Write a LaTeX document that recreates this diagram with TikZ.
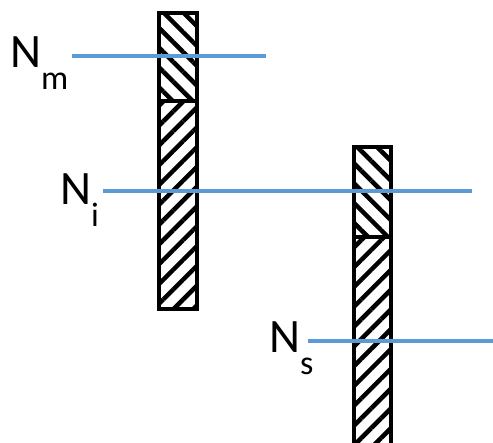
\documentclass[tikz,border=0pt]{standalone}
\usepackage{fontspec}
\setmainfont{Carlito}
\usetikzlibrary{patterns.meta}
\definecolor{lvlblue}{RGB}{91,155,213}
\newcommand{\subidx}[1]{\raisebox{-22pt}{\fontsize{34}{34}\selectfont #1}}
\tikzset{
  bar/.style={draw, line width=4pt},
  hatchdown/.style={pattern={Lines[angle=-45, distance=14pt, line width=4.5pt]}},
  hatchup/.style={pattern={Lines[angle=45, distance=14pt, line width=4.5pt]}},
  level/.style={draw=lvlblue, line width=4pt},
  lbl/.style={anchor=base west, inner sep=0pt, font=\fontsize{48}{48}\selectfont},
}

\begin{document}
\begin{tikzpicture}[x=1pt, y=-1pt]
    \useasboundingbox (0,0) rectangle (493,443);
    \clip (0,0) rectangle (493,443);
    % left bar
    \fill[hatchdown] (159,13) rectangle (197,101);
    \fill[hatchup] (159,101) rectangle (197,309);
    \draw[bar] (159,13) rectangle (197,309);
    \draw[bar] (159,101) -- (197,101);
    % right bar, runs off the bottom
    \fill[hatchdown] (354,147) rectangle (391,237);
    \fill[hatchup] (354,237) rectangle (391,450);
    \draw[bar] (354,450) -- (354,147) -- (391,147) -- (391,450);
    \draw[bar] (354,237) -- (391,237);
    % labels
    \node[lbl] (nm) at (10,68) {N\subidx{m}};
    \node[lbl] (ni) at (60,205) {N\subidx{i}};
    \node[lbl] (ns) at (269,353) {N\subidx{s}};
    % levels
    \coordinate (m1) at (72,56);
    \coordinate (m2) at (266,56);
    \coordinate (i1) at (103,191);
    \coordinate (i2) at (472,191);
    \coordinate (s1) at (308,341);
    \coordinate (s2) at (495,341);
    \draw[level] (m1) -- (m2);
    \draw[level] (i1) -- (i2);
    \draw[level] (s1) -- (s2);
\end{tikzpicture}
\end{document}
